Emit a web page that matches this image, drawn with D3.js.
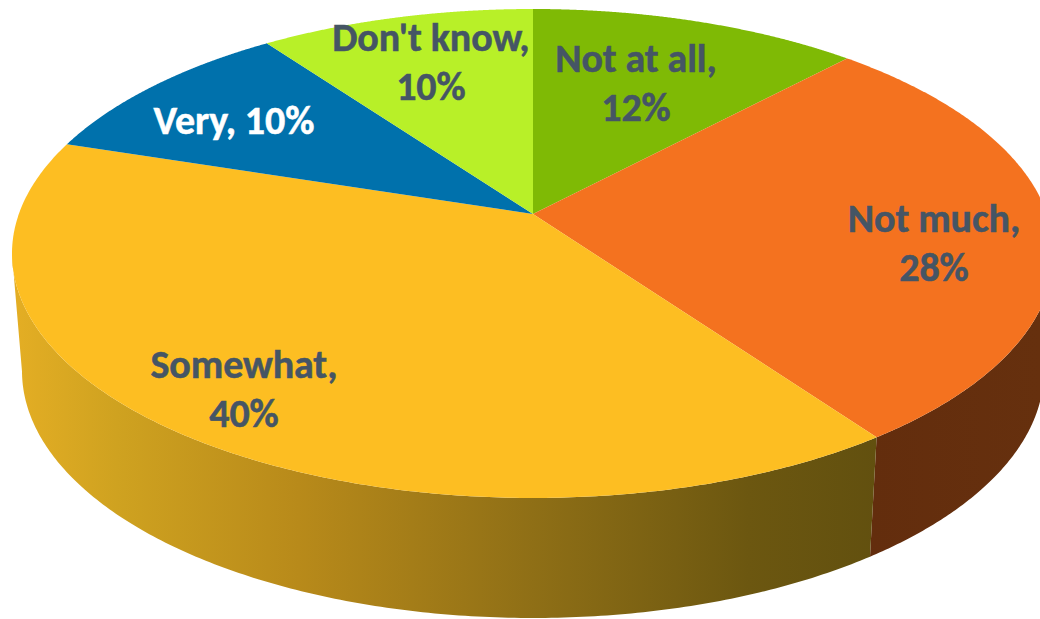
<!DOCTYPE html>
<html><head><meta charset="utf-8">
<script src="https://cdnjs.cloudflare.com/ajax/libs/d3/7.8.5/d3.min.js"></script>
<style>html,body{margin:0;padding:0;background:#fff;overflow:hidden}svg{display:block}text{font-family:Carlito,Lato,"Open Sans",sans-serif;font-weight:700;font-size:40px;stroke-width:0.5px;letter-spacing:-0.1px}</style>
</head><body>
<script>
const categories = ["Not at all","Not much","Somewhat","Very","Don't know"];
const values = [12,28,40,10,10];
const colors = ["#7FBA05","#F4721F","#FDBE22","#0071AC","#B8F028"];
const labelColors = ["#455565","#455565","#455565","#FFFFFF","#455565"];
const labelLines = [["Not at all,","12%"],["Not much,","28%"],["Somewhat,","40%"],["Very, 10%"],["Don't know,","10%"]];
const labelRadius = [0.661,0.77,0.834,0.687,0.743];
const labelShiftDeg = [-4.2,-1.8,5.7,-2.7,2.7];

const W=1040,H=619, lineH=49;
const svg=d3.select("body").append("svg").attr("width",W).attr("height",H);
const defs=svg.append("defs");
const yGrad=defs.append("linearGradient").attr("id","sideYellow").attr("gradientUnits","userSpaceOnUse").attr("x1",13).attr("x2",878).attr("y1",0).attr("y2",0);
[[0,"#E4AE24"],[0.12,"#CFA220"],[0.33,"#B88A1A"],[0.6,"#8F6F16"],[0.85,"#6C5710"],[1,"#62500F"]].forEach(s=>yGrad.append("stop").attr("offset",s[0]).attr("stop-color",s[1]));
const oGrad=defs.append("linearGradient").attr("id","sideOrange").attr("gradientUnits","userSpaceOnUse").attr("x1",870).attr("x2",1040).attr("y1",0).attr("y2",0);
[[0,"#632D0D"],[1,"#66300E"]].forEach(s=>oGrad.append("stop").attr("offset",s[0]).attr("stop-color",s[1]));

// unit-circle space -> screen
const topX=d3.scaleLinear().domain([-1,1]).range([12,1054]);
const topY=d3.scaleLinear().domain([-1,1]).range([498,9]);
const botX=d3.scaleLinear().domain([-1,1]).range([22,1044]);
const botY=d3.scaleLinear().domain([-1,1]).range([618,124]);
const apexY=0.156; // the perspective centre sits above the ellipse centre

function rim(a){
  const s=Math.sin(a),c=Math.cos(a);
  const t=-apexY*c+Math.sqrt(apexY*apexY*c*c-apexY*apexY+1);
  return [t*s,apexY+t*c];
}
const pie=d3.pie().sort(null).value(d=>d)(values);
const line=d3.line();
const samples=(a0,a1)=>d3.range(0,241).map(i=>a0+(a1-a0)*i/240);

// side walls
const sideG=svg.append("g");
[[1,"url(#sideOrange)"],[2,"url(#sideYellow)"]].forEach(([i,fill])=>{
  const pts=samples(pie[i].startAngle,pie[i].endAngle).map(rim).filter(p=>p[1]<=0);
  const path=[...pts.map(p=>[topX(p[0]),topY(p[1])]),...pts.slice().reverse().map(p=>[botX(p[0]),botY(p[1])])];
  sideG.append("path").attr("d",line(path)+"Z").attr("fill",fill);
});

// top face
svg.append("g").selectAll("path").data(pie).join("path")
  .attr("fill",(d,i)=>colors[i])
  .attr("d",d=>{
    const pts=samples(d.startAngle,d.endAngle).map(rim).map(p=>[topX(p[0]),topY(p[1])]);
    return line([[topX(0),214],...pts])+"Z";
  });

// labels
const rx=(topX(1)-topX(-1))/2, ry=(topY(-1)-topY(1))/2;
svg.append("g").selectAll("text").data(pie).join("text")
  .attr("text-anchor","middle").attr("fill",(d,i)=>labelColors[i]).attr("stroke",(d,i)=>labelColors[i])
  .each(function(d,i){
    const a=(d.startAngle+d.endAngle)/2+labelShiftDeg[i]*Math.PI/180;
    const x=topX(0)+labelRadius[i]*Math.sin(a)*rx;
    const cy=214-labelRadius[i]*Math.cos(a)*ry;
    d3.select(this).selectAll("tspan").data(labelLines[i]).join("tspan")
      .attr("x",x).attr("y",(t,j)=>cy+12+j*lineH).text(t=>t);
  });
</script>
</body></html>
